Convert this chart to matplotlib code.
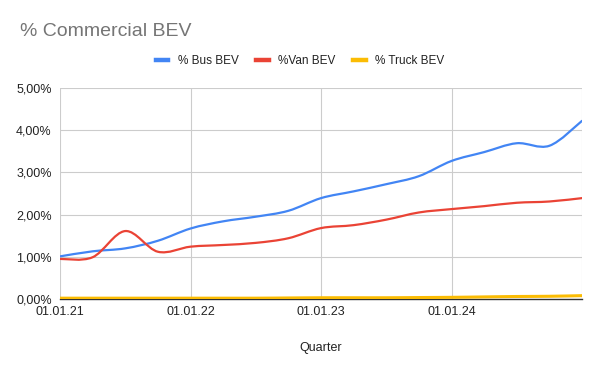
import numpy as np
import matplotlib
matplotlib.use("Agg")
import matplotlib.pyplot as plt
from matplotlib.path import Path
from matplotlib.patches import PathPatch
from matplotlib.lines import Line2D

plt.rcParams['font.family'] = ['Liberation Sans', 'DejaVu Sans']

# quarterly points, 01.01.21 .. 01.01.25
quarters = list(range(17))
tick_pos = [0, 4, 8, 12, 16]
tick_labels = ["01.01.21", "01.01.22", "01.01.23", "01.01.24", ""]

bus = [1.01, 1.13, 1.20, 1.38, 1.67, 1.84, 1.95, 2.09, 2.39, 2.55, 2.72,
       2.91, 3.27, 3.48, 3.69, 3.63, 4.22]
van = [0.95, 0.99, 1.61, 1.12, 1.24, 1.28, 1.33, 1.44, 1.68, 1.75, 1.88,
       2.05, 2.13, 2.20, 2.28, 2.31, 2.39]
truck = [0.02, 0.02, 0.02, 0.02, 0.02, 0.02, 0.02, 0.025, 0.03, 0.03, 0.03,
         0.035, 0.04, 0.05, 0.06, 0.065, 0.08]

names = ["% Bus BEV", "%Van BEV", "% Truck BEV"]
colors = ["#4285F4", "#EA4335", "#FBBC04"]


def smooth_path(x, y, k=1/6):
    # cubic bezier through the points (catmull-rom style handles)
    x = np.asarray(x, float)
    y = np.asarray(y, float)
    n = len(x)
    verts = [(x[0], y[0])]
    codes = [Path.MOVETO]
    for i in range(n - 1):
        p0 = (x[max(i - 1, 0)], y[max(i - 1, 0)])
        p1 = (x[i], y[i])
        p2 = (x[i + 1], y[i + 1])
        p3 = (x[min(i + 2, n - 1)], y[min(i + 2, n - 1)])
        c1 = (p1[0] + (p2[0] - p0[0]) * k, p1[1] + (p2[1] - p0[1]) * k)
        c2 = (p2[0] - (p3[0] - p1[0]) * k, p2[1] - (p3[1] - p1[1]) * k)
        verts += [c1, c2, p2]
        codes += [Path.CURVE4] * 3
    return Path(verts, codes)


fig = plt.figure(figsize=(6, 3.71), dpi=100)
ax = fig.add_axes([0.1, 0.194, 0.87, 0.569])

series = [(bus, colors[0], 1.6, 3), (van, colors[1], 1.6, 3), (truck, colors[2], 2.2, 4)]
for vals, c, lw, z in series:
    ax.add_patch(PathPatch(smooth_path(quarters, vals), facecolor='none',
                           edgecolor=c, lw=lw, zorder=z, capstyle='round'))

ax.set_xlim(0, 16)
ax.set_ylim(0, 5)
ax.set_yticks(range(6))
ax.set_yticklabels(["%d,00%%" % v for v in range(6)])
ax.set_xticks(tick_pos)
ax.set_xticklabels(tick_labels)
ax.grid(True, color="#cccccc", lw=0.8)
ax.set_axisbelow(True)
for s in ["top", "right", "left"]:
    ax.spines[s].set_visible(False)
ax.spines["bottom"].set_color("#333333")
ax.spines["bottom"].set_linewidth(1.0)
ax.spines["bottom"].set_zorder(2)
ax.tick_params(length=0, labelsize=9, colors="#222222")
ax.tick_params(axis='x', pad=5)
ax.tick_params(axis='y', pad=6)
ax.set_xlabel("Quarter", fontsize=9, color="#222222", labelpad=17)

fig.text(20 / 600, 1 - 31 / 371, "% Commercial BEV", fontsize=14,
         color="#757575", va="center", ha="left")

handles = [Line2D([], [], color=c, lw=3.2) for c in colors]
fig.legend(handles, names, loc="center", bbox_to_anchor=(0.5, 1 - 61 / 371),
           ncol=3, frameon=False, fontsize=8.5, handlelength=1.05,
           handletextpad=0.8, columnspacing=1.5, labelcolor="#222222")

fig.savefig("out.png", dpi=100)
